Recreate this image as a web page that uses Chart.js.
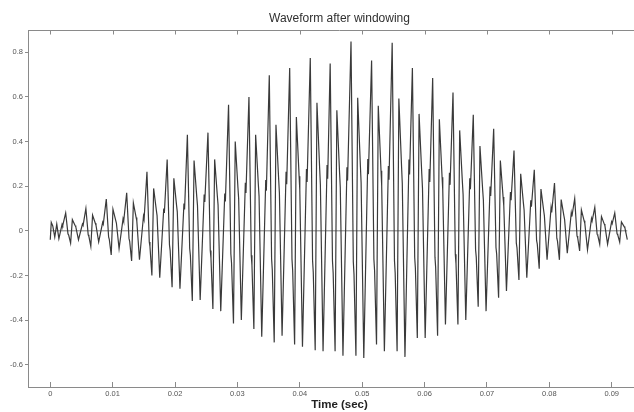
<!DOCTYPE html>
<html>
<head>
<meta charset="utf-8">
<title>Waveform after windowing</title>
<script src="https://cdn.jsdelivr.net/npm/chart.js@4.4.1/dist/chart.umd.min.js"></script>
<style>
  html, body { margin: 0; padding: 0; background: #ffffff; overflow: hidden; width: 634px; height: 412px; }
  canvas { display: block; }
</style>
</head>
<body>
<!-- The axes run a little past the right edge of the window, so the canvas is wider than the page. -->
<canvas id="wave" width="651" height="412"></canvas>
<script>
// Windowed speech frame: time (s) of each polyline vertex and its amplitude.
const sampleTimes = [
  0, 0.00016, 0.00040, 0.00072, 0.00104, 0.00138, 0.00190, 0.00200,
  0.00247, 0.00284, 0.00295, 0.00326, 0.00354, 0.00398, 0.00409, 0.00452, 0.00516, 0.00526,
  0.00571, 0.00608, 0.00619, 0.00650, 0.00678, 0.00722, 0.00733, 0.00776, 0.00840, 0.00850,
  0.00898, 0.00935, 0.00946, 0.00977, 0.01005, 0.01049, 0.01060, 0.01103, 0.01167, 0.01177,
  0.01225, 0.01262, 0.01273, 0.01304, 0.01332, 0.01376, 0.01387, 0.01430, 0.01494, 0.01504,
  0.01550, 0.01587, 0.01598, 0.01629, 0.01657, 0.01701, 0.01712, 0.01755, 0.01819, 0.01829,
  0.01874, 0.01911, 0.01922, 0.01953, 0.01981, 0.02025, 0.02036, 0.02079, 0.02143, 0.02153,
  0.02198, 0.02235, 0.02246, 0.02277, 0.02305, 0.02349, 0.02360, 0.02403, 0.02467, 0.02477,
  0.02528, 0.02565, 0.02576, 0.02607, 0.02635, 0.02679, 0.02690, 0.02733, 0.02797, 0.02807,
  0.02858, 0.02895, 0.02906, 0.02937, 0.02965, 0.03009, 0.03020, 0.03063, 0.03127, 0.03137,
  0.03185, 0.03222, 0.03233, 0.03264, 0.03292, 0.03336, 0.03347, 0.03390, 0.03454, 0.03464,
  0.03511, 0.03548, 0.03559, 0.03590, 0.03618, 0.03662, 0.03673, 0.03716, 0.03780, 0.03790,
  0.03838, 0.03875, 0.03886, 0.03917, 0.03945, 0.03989, 0.04000, 0.04043, 0.04107, 0.04117,
  0.04168, 0.04205, 0.04216, 0.04247, 0.04275, 0.04319, 0.04330, 0.04373, 0.04437, 0.04447,
  0.04487, 0.04524, 0.04535, 0.04566, 0.04594, 0.04638, 0.04649, 0.04692, 0.04756, 0.04766,
  0.04821, 0.04858, 0.04869, 0.04900, 0.04928, 0.04972, 0.04983, 0.05026, 0.05090, 0.05100,
  0.05151, 0.05188, 0.05199, 0.05230, 0.05258, 0.05302, 0.05313, 0.05356, 0.05420, 0.05430,
  0.05481, 0.05518, 0.05529, 0.05560, 0.05588, 0.05632, 0.05643, 0.05686, 0.05750, 0.05760,
  0.05805, 0.05842, 0.05853, 0.05884, 0.05912, 0.05956, 0.05967, 0.06010, 0.06074, 0.06084,
  0.06130, 0.06167, 0.06178, 0.06209, 0.06237, 0.06281, 0.06292, 0.06335, 0.06399, 0.06409,
  0.06456, 0.06493, 0.06504, 0.06535, 0.06563, 0.06607, 0.06618, 0.06661, 0.06725, 0.06735,
  0.06781, 0.06818, 0.06829, 0.06860, 0.06888, 0.06932, 0.06943, 0.06986, 0.07050, 0.07060,
  0.07108, 0.07145, 0.07156, 0.07187, 0.07215, 0.07259, 0.07270, 0.07313, 0.07377, 0.07387,
  0.07434, 0.07471, 0.07482, 0.07513, 0.07541, 0.07585, 0.07596, 0.07639, 0.07703, 0.07713,
  0.07759, 0.07796, 0.07807, 0.07838, 0.07866, 0.07910, 0.07921, 0.07964, 0.08028, 0.08038,
  0.08083, 0.08120, 0.08131, 0.08162, 0.08190, 0.08234, 0.08245, 0.08288, 0.08352, 0.08362,
  0.08407, 0.08444, 0.08455, 0.08486, 0.08514, 0.08558, 0.08569, 0.08612, 0.08676, 0.08686,
  0.08729, 0.08766, 0.08777, 0.08808, 0.08836, 0.08880, 0.08891, 0.08934, 0.08998, 0.09008,
  0.09049, 0.09086, 0.09097, 0.09128, 0.09156, 0.09200, 0.09211, 0.09250
];

const amplitudes = [
  -0.040, 0.038, 0.022, -0.028, 0.030, -0.035, 0.030, 0.024,
  0.080, -0.014, -0.019, -0.055, 0.050, 0.024, 0.018, -0.040, 0.030, 0.024,
  0.100, -0.018, -0.025, -0.070, 0.070, 0.034, 0.025, -0.050, 0.038, 0.030,
  0.142, -0.027, -0.038, -0.108, 0.097, 0.047, 0.035, -0.080, 0.054, 0.043,
  0.170, -0.034, -0.047, -0.135, 0.125, 0.060, 0.045, -0.130, 0.065, 0.051,
  0.265, -0.050, -0.070, -0.200, 0.190, 0.091, 0.068, -0.210, 0.100, 0.080,
  0.320, -0.063, -0.089, -0.253, 0.235, 0.113, 0.085, -0.260, 0.122, 0.096,
  0.430, -0.079, -0.110, -0.315, 0.315, 0.151, 0.113, -0.310, 0.163, 0.129,
  0.440, -0.088, -0.123, -0.350, 0.320, 0.154, 0.115, -0.360, 0.167, 0.132,
  0.565, -0.104, -0.145, -0.415, 0.400, 0.192, 0.144, -0.400, 0.215, 0.170,
  0.600, -0.110, -0.154, -0.440, 0.430, 0.206, 0.155, -0.475, 0.228, 0.180,
  0.697, -0.125, -0.175, -0.500, 0.475, 0.228, 0.171, -0.470, 0.265, 0.209,
  0.730, -0.128, -0.179, -0.510, 0.510, 0.245, 0.184, -0.520, 0.277, 0.219,
  0.775, -0.134, -0.187, -0.535, 0.574, 0.276, 0.207, -0.540, 0.295, 0.233,
  0.750, -0.135, -0.189, -0.540, 0.540, 0.259, 0.194, -0.560, 0.285, 0.225,
  0.848, -0.140, -0.196, -0.560, 0.596, 0.286, 0.215, -0.570, 0.322, 0.254,
  0.763, -0.128, -0.179, -0.510, 0.560, 0.269, 0.202, -0.540, 0.290, 0.229,
  0.843, -0.135, -0.189, -0.540, 0.593, 0.285, 0.213, -0.565, 0.320, 0.253,
  0.730, -0.120, -0.168, -0.480, 0.524, 0.252, 0.189, -0.480, 0.277, 0.219,
  0.685, -0.118, -0.165, -0.470, 0.500, 0.240, 0.180, -0.420, 0.260, 0.206,
  0.620, -0.105, -0.147, -0.420, 0.450, 0.216, 0.162, -0.400, 0.236, 0.186,
  0.520, -0.085, -0.119, -0.340, 0.380, 0.182, 0.137, -0.360, 0.198, 0.156,
  0.457, -0.075, -0.105, -0.300, 0.315, 0.151, 0.113, -0.270, 0.174, 0.137,
  0.360, -0.055, -0.077, -0.220, 0.256, 0.123, 0.092, -0.210, 0.137, 0.108,
  0.274, -0.043, -0.060, -0.170, 0.187, 0.090, 0.067, -0.130, 0.104, 0.082,
  0.214, -0.033, -0.046, -0.130, 0.140, 0.067, 0.050, -0.100, 0.081, 0.064,
  0.145, -0.023, -0.032, -0.090, 0.094, 0.045, 0.034, -0.085, 0.055, 0.044,
  0.105, -0.015, -0.021, -0.060, 0.064, 0.031, 0.023, -0.060, 0.040, 0.032,
  0.080, -0.013, -0.018, -0.050, 0.040, 0.019, 0.014, -0.040
];

// Reference line at zero, spanning the frame.
const zeroLineTimes = [0, 0.0925];
const zeroLineValues = [0, 0];

const xTickValues = [0, 0.01, 0.02, 0.03, 0.04, 0.05, 0.06, 0.07, 0.08, 0.09];
const xTickLabels = ['0', '0.01', '0.02', '0.03', '0.04', '0.05', '0.06', '0.07', '0.08', '0.09'];
const yTickValues = [-0.6, -0.4, -0.2, 0, 0.2, 0.4, 0.6, 0.8];
const yTickLabels = ['-0.6', '-0.4', '-0.2', '0', '0.2', '0.4', '0.6', '0.8'];

const chartTitle = 'Waveform after windowing';
const xAxisTitle = 'Time (sec)';

const AXIS_COLOR = '#8a8a8a';
const TICK_TEXT = '#555555';
const FONT = "'Liberation Sans', Arial, Helvetica, sans-serif";

const waveData = sampleTimes.map((t, i) => ({ x: t, y: amplitudes[i] }));
const zeroData = zeroLineTimes.map((t, i) => ({ x: t, y: zeroLineValues[i] }));

// Closes the box along the top edge and repeats the x tick marks there.
const topFrame = {
  id: 'topFrame',
  afterDraw(chart) {
    const { ctx, chartArea, scales } = chart;
    const y = Math.round(chartArea.top) + 0.5;
    ctx.save();
    ctx.strokeStyle = AXIS_COLOR;
    ctx.lineWidth = 1;
    ctx.beginPath();
    ctx.moveTo(chartArea.left, y);
    ctx.lineTo(chartArea.right, y);
    scales.x.ticks.forEach(t => {
      const px = Math.round(scales.x.getPixelForValue(t.value)) + 0.5;
      ctx.moveTo(px, y);
      ctx.lineTo(px, y + 4);
    });
    ctx.stroke();
    ctx.restore();
  }
};

new Chart(document.getElementById('wave'), {
  type: 'line',
  data: {
    datasets: [
      {
        data: waveData,
        borderColor: '#3a3a3a',
        borderWidth: 1.2,
        pointRadius: 0,
        tension: 0,
        fill: false
      },
      {
        data: zeroData,
        borderColor: '#7a7a7a',
        borderWidth: 1,
        pointRadius: 0,
        fill: false
      }
    ]
  },
  options: {
    responsive: false,
    animation: false,
    events: [],
    layout: { padding: 0 },
    plugins: {
      legend: { display: false },
      tooltip: { enabled: false },
      title: {
        display: true,
        text: chartTitle,
        fullSize: false,
        color: '#303030',
        font: { family: FONT, size: 12, weight: 'normal' },
        padding: { top: 11.8, bottom: 3.8 }
      }
    },
    scales: {
      x: {
        type: 'linear',
        min: -0.00357,
        max: 0.0963,
        afterBuildTicks: s => { s.ticks = xTickValues.map(v => ({ value: v })); },
        afterFit: s => { s.height = 25; },
        ticks: {
          color: TICK_TEXT,
          font: { family: FONT, size: 7.5 },
          padding: 7.5,
          maxRotation: 0,
          autoSkip: false,
          callback: (v, i) => xTickLabels[i]
        },
        grid: { display: true, drawOnChartArea: false, drawTicks: true, tickLength: -5, color: AXIS_COLOR, lineWidth: 1 },
        border: { display: true, color: AXIS_COLOR, width: 1 },
        title: {
          display: true,
          text: xAxisTitle,
          color: '#222222',
          font: { family: FONT, size: 11.5, weight: 'bold' },
          padding: { top: 0, bottom: 0 }
        }
      },
      y: {
        type: 'linear',
        min: -0.7,
        max: 0.9,
        afterBuildTicks: s => { s.ticks = yTickValues.map(v => ({ value: v })); },
        afterFit: s => { s.width = 28; },
        ticks: {
          color: TICK_TEXT,
          font: { family: FONT, size: 7.5 },
          padding: 2,
          autoSkip: false,
          callback: (v, i) => yTickLabels[i]
        },
        grid: { display: true, drawOnChartArea: false, drawTicks: true, tickLength: 3, color: AXIS_COLOR, lineWidth: 1 },
        border: { display: true, color: AXIS_COLOR, width: 1 }
      }
    }
  },
  plugins: [topFrame]
});
</script>
</body>
</html>
